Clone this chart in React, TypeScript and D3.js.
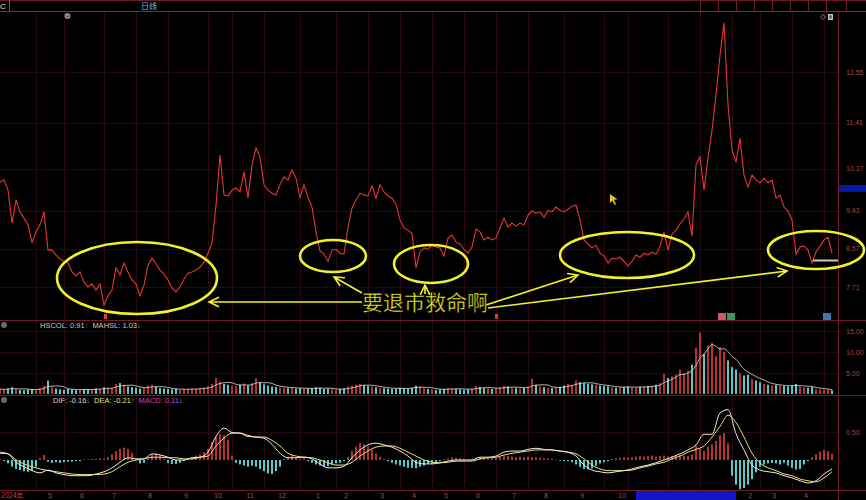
import React from "react";
import * as d3 from "d3";

// Daily closes, one sample every 4px step of the time axis
const closes = [
  10.07, 10.12, 9.89, 9.15, 9.67, 9.4, 9.26, 9.11, 8.72, 8.95,
  9.11, 9.4, 8.54, 8.54, 8.43, 8.34, 8.29, 8.25, 8.05, 7.96,
  8.05, 7.82, 7.71, 7.78, 7.64, 7.78, 7.3, 7.51, 7.64, 8.14,
  7.98, 8.25, 8.05, 7.87, 7.78, 7.51, 7.75, 8.2, 8.36, 8.23,
  8.09, 8.0, 7.87, 7.69, 7.6, 7.71, 7.89, 8.02, 8.05, 8.09,
  8.16, 8.27, 8.47, 8.7, 9.55, 10.68, 9.78, 9.76, 9.89, 9.94,
  9.85, 10.3, 9.71, 10.46, 10.84, 10.64, 10.01, 9.89, 9.82, 9.78,
  10.01, 10.19, 10.12, 10.34, 10.16, 9.73, 10.01, 9.73, 9.51, 8.95,
  8.52, 8.45, 8.29, 8.54, 8.56, 8.47, 8.45, 9.06, 9.49, 9.67,
  9.82, 9.78, 9.76, 9.98, 9.71, 10.01, 9.85, 9.76, 9.71, 9.58,
  9.22, 9.04, 8.99, 8.92, 8.14, 8.5, 8.59, 8.56, 8.65, 8.61,
  8.59, 8.41, 8.81, 8.88, 8.72, 8.68, 8.56, 8.47, 8.61, 9.01,
  8.95, 8.77, 8.83, 8.77, 8.81, 9.04, 9.26, 9.06, 9.15, 9.08,
  9.15, 9.11, 9.33, 9.42, 9.37, 9.4, 9.28, 9.44, 9.4, 9.51,
  9.44, 9.4, 9.46, 9.53, 9.55, 9.22, 8.77, 8.68, 8.59, 8.65,
  8.47, 8.41, 8.25, 8.36, 8.34, 8.38, 8.29, 8.18, 8.29, 8.43,
  8.38, 8.47, 8.43, 8.5, 8.45, 8.63, 8.95, 8.54, 8.9, 8.99,
  9.13, 9.24, 9.4, 8.86, 10.46, 10.64, 9.89, 10.61, 11.24, 12.03,
  12.93, 13.66, 11.81, 10.79, 10.52, 11.06, 10.23, 9.96, 10.23, 10.12,
  10.05, 10.16, 10.05, 10.12, 9.71, 9.78, 9.51, 9.42, 9.22, 8.45,
  8.61, 8.63, 8.54, 8.25, 8.5, 8.63, 8.77, 8.83, 8.47,
];

// Turnover rate (HSCOL, %), same sampling as closes
const turnover = [
  1.2, 1.0, 1.3, 1.6, 1.2, 1.0, 0.9, 1.1, 1.2, 1.0,
  1.4, 2.0, 3.2, 1.8, 1.3, 1.1, 1.0, 1.2, 1.1, 0.9,
  1.0, 1.2, 1.1, 1.0, 1.3, 1.2, 1.6, 1.5, 1.4, 2.4,
  2.6, 2.2, 1.8, 1.6, 1.5, 1.3, 1.4, 2.0, 2.2, 1.7,
  1.4, 1.3, 1.2, 1.1, 1.2, 1.0, 1.1, 1.2, 1.3, 1.2,
  1.4, 1.5, 1.8, 2.4, 3.8, 3.0, 2.4, 2.2, 2.0, 1.9,
  2.2, 2.5, 2.0, 2.6, 3.7, 2.8, 2.3, 2.0, 1.8, 1.7,
  1.6, 1.5, 1.4, 1.5, 1.3, 1.4, 1.3, 1.2, 1.4, 1.6,
  1.5, 1.2, 1.3, 1.1, 1.0, 1.2, 1.3, 1.8, 2.0, 2.2,
  2.4, 2.1, 1.9, 1.8, 1.6, 1.5, 1.4, 1.3, 1.2, 1.3,
  1.5, 1.4, 1.3, 1.5, 2.0, 1.8, 1.4, 1.2, 1.1, 1.0,
  1.1, 1.2, 1.4, 1.3, 1.2, 1.1, 1.0, 1.1, 1.3, 1.9,
  1.7, 1.4, 1.3, 1.2, 1.4, 1.6, 1.9, 1.8, 1.5, 1.4,
  1.3, 1.5, 1.8, 3.6, 2.2, 1.8, 1.6, 1.5, 1.4, 1.6,
  1.7, 2.0, 2.4, 2.2, 3.2, 2.8, 2.6, 2.4, 2.3, 2.2,
  2.0, 1.9, 1.8, 1.6, 1.5, 1.6, 1.7, 1.8, 1.6, 1.5,
  1.7, 1.8, 1.9, 2.0, 2.2, 2.6, 4.8, 3.8, 4.2, 4.6,
  5.8, 4.9, 5.5, 7.0, 11.0, 14.6, 9.5, 11.5, 12.2, 9.0,
  11.2, 10.0, 8.0, 6.4, 5.8, 5.0, 4.4, 4.6, 3.6, 3.2,
  2.8, 2.4, 2.2, 2.0, 2.2, 2.0, 1.9, 1.8, 2.0, 2.4,
  1.8, 1.6, 1.5, 1.7, 1.1, 1.1, 1.0, 1.05, 0.91,
];

// MACD histogram bars, same sampling as closes
const macdBars = [
  0.02, -0.02, -0.06, -0.12, -0.16, -0.18, -0.2, -0.21, -0.19, -0.12,
  0.04, 0.09, -0.03, -0.05, -0.04, -0.05, -0.04, -0.03, -0.03, -0.02,
  -0.02, 0.01, 0.01, 0.02, 0.02, 0.03, 0.02, 0.05, 0.1, 0.16,
  0.2, 0.22, 0.2, 0.12, 0.02, -0.06, -0.05, 0.03, 0.1, 0.11,
  0.08, 0.02, -0.05, -0.07, -0.07, -0.05, -0.02, 0.02, 0.05, 0.08,
  0.1, 0.14, 0.2, 0.32, 0.42, 0.46, 0.44, 0.36, 0.08, -0.05,
  -0.08, -0.1, -0.12, -0.1, -0.12, -0.16, -0.2, -0.24, -0.25, -0.2,
  -0.12, 0.02, 0.06, 0.08, 0.04, 0.02, 0.03, -0.02, -0.05, -0.08,
  -0.1, -0.12, -0.11, -0.08, -0.06, -0.05, -0.02, 0.06, 0.16, 0.24,
  0.3, 0.28, 0.24, 0.18, 0.12, 0.06, 0.02, -0.02, -0.05, -0.08,
  -0.1, -0.12, -0.14, -0.14, -0.15, -0.12, -0.1, -0.07, -0.06, -0.04,
  -0.02, 0.01, 0.03, 0.05, 0.04, 0.03, 0.02, 0.01, 0.02, 0.04,
  0.05, 0.04, 0.03, 0.03, 0.04, 0.06, 0.08, 0.07, 0.06, 0.05,
  0.06, 0.05, 0.06, 0.05, 0.05, 0.04, 0.03, 0.03, 0.02, 0.01,
  -0.01, -0.02, -0.02, -0.04, -0.08, -0.12, -0.16, -0.17, -0.15, -0.1,
  -0.06, -0.04, -0.02, 0.02, 0.03, 0.04, 0.05, 0.04, 0.05, 0.06,
  0.07, 0.06, 0.07, 0.08, 0.06, 0.07, 0.08, 0.06, 0.07, 0.08,
  0.09, 0.08, 0.07, 0.1, 0.26, 0.2, 0.16, 0.24, 0.28, 0.34,
  0.44, 0.48, 0.3, -0.28, -0.44, -0.52, -0.5, -0.44, -0.34, -0.22,
  -0.12, -0.08, -0.06, -0.05, -0.06, -0.08, -0.05, -0.1, -0.14, -0.17,
  -0.16, -0.08, -0.02, 0.05, 0.1, 0.15, 0.18, 0.16, 0.11,
];

// DIF and DEA lines, one sample every second step
const difValues = [
  0.14, 0.11, -0.04, -0.12, -0.19, -0.23, -0.18, -0.23, -0.26, -0.28,
  -0.28, -0.28, -0.25, -0.21, -0.14, -0.04, 0.04, 0.02, 0.02, 0.11,
  0.09, 0.05, 0.0, 0.0, 0.04, 0.05, 0.14, 0.42, 0.57, 0.49,
  0.48, 0.42, 0.41, 0.39, 0.28, 0.12, 0.04, 0.04, 0.05, 0.02,
  -0.07, -0.14, -0.14, -0.11, 0.04, 0.18, 0.27, 0.3, 0.27, 0.23,
  0.16, 0.07, -0.04, -0.07, -0.07, -0.05, -0.02, 0.0, 0.0, 0.0,
  0.05, 0.05, 0.07, 0.14, 0.16, 0.16, 0.19, 0.21, 0.19, 0.18,
  0.16, 0.14, 0.07, -0.09, -0.18, -0.21, -0.23, -0.21, -0.19, -0.16,
  -0.12, -0.09, -0.05, 0.0, 0.05, 0.11, 0.18, 0.27, 0.46, 0.46,
  0.84, 0.9, 0.47, 0.18, -0.09, -0.18, -0.21, -0.23, -0.28, -0.32,
  -0.37, -0.41, -0.37, -0.25, -0.16,
];
const deaValues = [
  0.12, 0.11, 0.0, -0.07, -0.12, -0.16, -0.19, -0.21, -0.23, -0.25,
  -0.26, -0.26, -0.26, -0.25, -0.21, -0.12, -0.04, 0.0, 0.02, 0.05,
  0.05, 0.04, 0.04, 0.02, 0.02, 0.05, 0.07, 0.25, 0.39, 0.48,
  0.48, 0.44, 0.41, 0.41, 0.35, 0.25, 0.12, 0.07, 0.05, 0.04,
  0.0, -0.05, -0.09, -0.09, -0.04, 0.07, 0.16, 0.23, 0.25, 0.25,
  0.21, 0.14, 0.07, 0.0, -0.04, -0.05, -0.04, -0.02, -0.02, -0.02,
  0.02, 0.04, 0.05, 0.09, 0.12, 0.14, 0.16, 0.18, 0.18, 0.18,
  0.16, 0.14, 0.11, 0.02, -0.09, -0.16, -0.19, -0.19, -0.19, -0.18,
  -0.14, -0.11, -0.07, -0.04, 0.02, 0.07, 0.14, 0.19, 0.25, 0.41,
  0.6, 0.8, 0.67, 0.41, 0.12, -0.05, -0.14, -0.19, -0.25, -0.28,
  -0.34, -0.37, -0.39, -0.32, -0.21,
];

const priceTicks = [12.55, 11.41, 10.37, 9.43, 8.57, 7.71];
const volumeTicks = [5, 10, 15];
const macdTicks = [0.5];

const monthLabels = ["5", "6", "7", "8", "9", "10", "11", "12", "1", "2", "3", "4", "5", "6", "7", "8", "9", "10", "2", "3", "4"];
const monthStarts = [12, 20, 28, 37, 46, 54, 62, 70, 79, 86, 95, 103, 111, 119, 128, 136, 145, 155, 187, 193, 201];
const gridDays = [9, 16, 26, 34, 42, 52, 58, 66, 75, 84, 92, 100, 108, 116, 124, 132, 141, 151, 157, 167, 175, 183, 190, 198, 206];

const W = 866;
const H = 500;
const AXIS_X = 838;
const MAIN = { top: 11, bottom: 320 };
const VOL = { top: 320, bottom: 395 };
const MAC = { top: 395, bottom: 490 };

const GRID = "#240a0e";
const BORDER = "#6e1c28";
const AXIS_TEXT = "#a84444";
const UP = "#b83232";
const DOWN = "#5cc8c8";
const YELLOW = "#f2f22a";
const FONT = "'Liberation Sans', Arial, sans-serif";
const CJK = "'Noto Sans CJK SC', 'Noto Sans', sans-serif";

const x = d3.scaleLinear().domain([0, closes.length - 1]).range([0, 832]);
const yPrice = d3.scaleLinear().domain([7.71, 12.55]).range([287, 72]);
const yVol = d3.scaleLinear().domain([0, 15]).range([394, 331]);
const yMacd = d3.scaleLinear().domain([0, 0.5]).range([460, 432]);

const turnoverMA = turnover.map((_, i) => d3.mean(turnover.slice(Math.max(0, i - 4), i + 1)) as number);

const priceLine = d3.line<number>().x((_, i) => x(i)).y((d) => yPrice(d))(closes) ?? "";
const maLine = d3.line<number>().x((_, i) => x(i)).y((d) => yVol(d)).curve(d3.curveMonotoneX)(turnoverMA) ?? "";
const difLine = d3.line<number>().x((_, i) => x(i * 2)).y((d) => yMacd(d)).curve(d3.curveMonotoneX)(difValues) ?? "";
const deaLine = d3.line<number>().x((_, i) => x(i * 2)).y((d) => yMacd(d)).curve(d3.curveMonotoneX)(deaValues) ?? "";

function arrowPath(from: [number, number], tip: [number, number], len = 11, spread = 0.45) {
  const a = Math.atan2(from[1] - tip[1], from[0] - tip[0]);
  const w1 = [tip[0] + len * Math.cos(a + spread), tip[1] + len * Math.sin(a + spread)];
  const w2 = [tip[0] + len * Math.cos(a - spread), tip[1] + len * Math.sin(a - spread)];
  return `M${from[0]},${from[1]}L${tip[0]},${tip[1]}M${w1[0]},${w1[1]}L${tip[0]},${tip[1]}L${w2[0]},${w2[1]}`;
}

const ellipses = [
  { cx: 137, cy: 278, rx: 80, ry: 36 },
  { cx: 333, cy: 256, rx: 33, ry: 16 },
  { cx: 431, cy: 264, rx: 37, ry: 19 },
  { cx: 627, cy: 255, rx: 67, ry: 23 },
  { cx: 816, cy: 250, rx: 48, ry: 19 },
];

const arrows: [[number, number], [number, number]][] = [
  [[362, 302], [209, 302]],
  [[362, 293], [334, 277]],
  [[425, 294], [425, 285]],
  [[486, 305], [578, 275]],
  [[488, 308], [787, 271]],
];

export default function App() {
  const headerCells = [700, 718, 736, 754, 772, 790, 808, 826, 846];
  return (
    <svg width={W} height={H} style={{ position: "fixed", left: 0, top: 0, background: "#000" }}>
      <rect width={W} height={H} fill="#000" />
      <defs>
        <clipPath id="mainClip"><rect x={0} y={MAIN.top} width={AXIS_X} height={MAIN.bottom - MAIN.top} /></clipPath>
        <clipPath id="macdClip"><rect x={0} y={MAC.top} width={AXIS_X} height={MAC.bottom - MAC.top} /></clipPath>
      </defs>

      {/* grid */}
      {gridDays.map((d) => (
        <line key={"g" + d} x1={x(d) + 0.5} x2={x(d) + 0.5} y1={MAIN.top} y2={MAC.bottom} stroke={GRID} />
      ))}
      {priceTicks.map((t) => (
        <line key={"pt" + t} x1={0} x2={AXIS_X} y1={Math.round(yPrice(t)) + 0.5} y2={Math.round(yPrice(t)) + 0.5} stroke={GRID} />
      ))}
      {volumeTicks.map((t) => (
        <line key={"vt" + t} x1={0} x2={AXIS_X} y1={Math.round(yVol(t)) + 0.5} y2={Math.round(yVol(t)) + 0.5} stroke={GRID} />
      ))}
      {macdTicks.map((t) => (
        <line key={"mt" + t} x1={0} x2={AXIS_X} y1={Math.round(yMacd(t)) + 0.5} y2={Math.round(yMacd(t)) + 0.5} stroke={GRID} />
      ))}

      {/* header */}
      <line x1={0} x2={W} y1={0.5} y2={0.5} stroke={BORDER} />
      <line x1={0} x2={W} y1={11.5} y2={11.5} stroke="#8a2434" />
      <line x1={9.5} x2={9.5} y1={0} y2={11} stroke="#b04060" />
      <text x={0} y={9} fontSize={8} fill="#e0e0e0" fontFamily={FONT}>C</text>
      {headerCells.map((c) => (
        <line key={"hc" + c} x1={c + 0.5} x2={c + 0.5} y1={0} y2={11} stroke={BORDER} />
      ))}
      <text x={141} y={9} fontSize={8} fill="#7cb8e4" fontFamily={CJK}>日线</text>
      <circle cx={67.5} cy={16} r={3} fill="#8a8a8a" />
      <path d="M66,15.5 L67.5,17 L69,15.5" stroke="#333" fill="none" strokeWidth={0.8} />
      <path d="M823,14.5 L825.5,17 L823,19.5 L820.5,17 Z" fill="none" stroke="#999" strokeWidth={0.8} />
      <rect x={828} y={14} width={5} height={6} fill="#bbb" />
      <rect x={829.5} y={15.5} width={2} height={3} fill="#444" />

      {/* panel borders */}
      <line x1={0} x2={W} y1={MAIN.bottom + 0.5} y2={MAIN.bottom + 0.5} stroke={BORDER} />
      <line x1={0} x2={W} y1={VOL.bottom + 0.5} y2={VOL.bottom + 0.5} stroke={BORDER} />
      <line x1={0} x2={W} y1={MAC.bottom + 0.5} y2={MAC.bottom + 0.5} stroke={BORDER} />
      <line x1={AXIS_X + 0.5} x2={AXIS_X + 0.5} y1={MAIN.top} y2={H} stroke={BORDER} />

      {/* price axis */}
      {priceTicks.map((t) => (
        <text key={"pl" + t} x={846} y={yPrice(t) + 2.5} fontSize={7} fill={AXIS_TEXT} fontFamily={FONT}>
          {t.toFixed(2)}
        </text>
      ))}
      <rect x={AXIS_X + 1} y={185} width={W - AXIS_X} height={7} fill="#0a18a8" />

      {/* price line */}
      <path d={priceLine} fill="none" stroke="#e83434" strokeWidth={1.1} clipPath="url(#mainClip)" />

      {/* event markers */}
      <rect x={104} y={314} width={3} height={5} fill="#d84040" />
      <rect x={495} y={314} width={3} height={5} fill="#d84040" />
      <rect x={718} y={313} width={8} height={7} fill="#c85a6a" />
      <rect x={727} y={313} width={8} height={7} fill="#3c9a5a" />
      <rect x={823} y={313} width={8} height={7} fill="#3a78b8" />

      {/* turnover panel */}
      <circle cx={4} cy={325} r={3} fill="#6a6a6a" />
      <text x={40} y={328} fontSize={7.5} fontFamily={FONT} fill="#c8c8c8">
        HSCOL: {turnover[turnover.length - 1].toFixed(2)}
        <tspan fill="#e04040">↑</tspan>
        <tspan dx={4}>MAHSL: {turnoverMA[turnoverMA.length - 1].toFixed(2)}</tspan>
        <tspan fill={DOWN}>↓</tspan>
      </text>
      {volumeTicks.map((t) => (
        <text key={"vl" + t} x={846} y={yVol(t) + 2.5} fontSize={7} fill={AXIS_TEXT} fontFamily={FONT}>
          {t.toFixed(2)}
        </text>
      ))}
      {turnover.map((v, i) => {
        const up = i === 0 || closes[i] >= closes[i - 1];
        return (
          <rect key={"v" + i} x={x(i) - 1} y={yVol(v)} width={2} height={yVol(0) - yVol(v)} fill={up ? UP : DOWN} />
        );
      })}
      <path d={maLine} fill="none" stroke="#d8d8d8" strokeWidth={0.8} />

      {/* MACD panel */}
      <circle cx={4} cy={400} r={3} fill="#6a6a6a" />
      <text x={53} y={403} fontSize={7.5} fontFamily={FONT}>
        <tspan fill="#d8d8d8">DIF: {difValues[difValues.length - 1].toFixed(2)}</tspan>
        <tspan fill={DOWN}>↓</tspan>
        <tspan dx={4} fill="#e8e070">DEA: {deaValues[deaValues.length - 1].toFixed(2)}</tspan>
        <tspan fill="#e04040">↑</tspan>
        <tspan dx={4} fill="#d040d0">MACD: {macdBars[macdBars.length - 1].toFixed(2)}</tspan>
        <tspan fill={DOWN}>↓</tspan>
      </text>
      {macdTicks.map((t) => (
        <text key={"ml" + t} x={846} y={yMacd(t) + 2.5} fontSize={7} fill={AXIS_TEXT} fontFamily={FONT}>
          {t.toFixed(2)}
        </text>
      ))}
      <g clipPath="url(#macdClip)">
        {macdBars.map((v, i) => (
          <rect
            key={"m" + i}
            x={x(i) - 1}
            y={Math.min(yMacd(v), yMacd(0))}
            width={2}
            height={Math.abs(yMacd(v) - yMacd(0))}
            fill={v >= 0 ? UP : DOWN}
          />
        ))}
        <path d={deaLine} fill="none" stroke="#e8e070" strokeWidth={1} />
        <path d={difLine} fill="none" stroke="#e8e8e8" strokeWidth={1} />
      </g>

      {/* time axis */}
      <rect x={636} y={491} width={100} height={9} fill="#1414c8" />
      <text x={1} y={498} fontSize={7} fill="#c83a3a" fontFamily={CJK}>2024年</text>
      {monthLabels.map((m, i) => (
        <text key={"mo" + i} x={x(monthStarts[i]) + 2} y={498} fontSize={7} fill="#c83a3a" fontFamily={FONT} textAnchor="middle">
          {m}
        </text>
      ))}

      {/* annotations */}
      <line x1={813} x2={838} y1={260.5} y2={260.5} stroke="#c8c8c8" strokeWidth={2} />
      <path d="M610,194 L610,203 L612.5,200.5 L614.5,205 L616,204.3 L614,199.8 L617.5,199.5 Z" fill="#e8c020" />
      {ellipses.map((e, i) => (
        <ellipse key={"e" + i} cx={e.cx} cy={e.cy} rx={e.rx} ry={e.ry} fill="none" stroke={YELLOW} strokeWidth={2.6} />
      ))}
      {arrows.map((a, i) => (
        <path key={"a" + i} d={arrowPath(a[0], a[1])} fill="none" stroke={YELLOW} strokeWidth={1.6} />
      ))}
      <text x={362} y={310} fontSize={21} fill={YELLOW} fontFamily={CJK} stroke="#000" strokeWidth={0.4}>
        要退市救命啊
      </text>
    </svg>
  );
}
